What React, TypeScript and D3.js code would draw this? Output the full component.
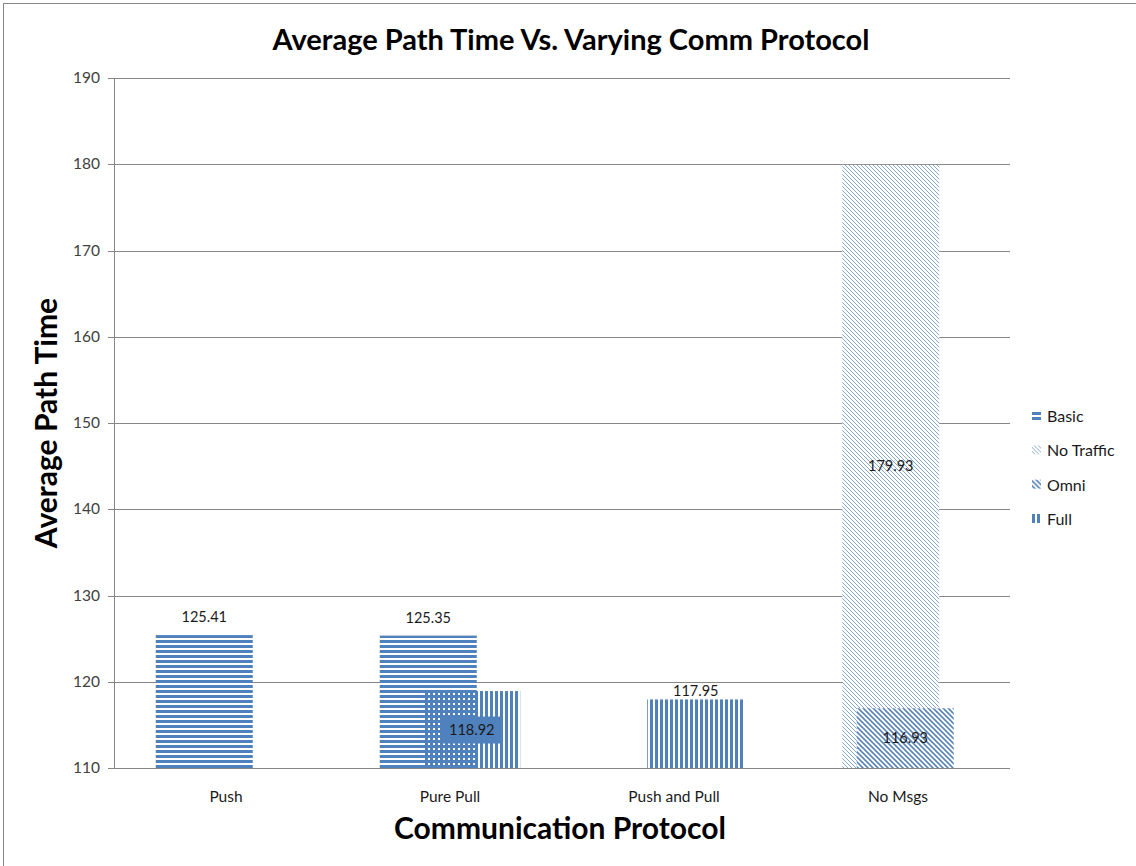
import React from 'react';
import * as d3 from 'd3';

const categories = ['Push', 'Pure Pull', 'Push and Pull', 'No Msgs'];
const seriesNames = ['Basic', 'No Traffic', 'Omni', 'Full'];
// values per series, null = no bar
const basic = [125.41, 125.35, null, null];
const noTraffic = [null, null, null, 179.93];
const omni = [null, null, null, 116.93];
const full = [null, 118.92, 117.95, null];
// where Excel put each data label
const basicLabels = ['out', 'out', '', ''];
const noTrafficLabels = ['', '', '', 'mid'];
const omniLabels = ['', '', '', 'mid'];
const fullLabels = ['', 'box', 'tight', ''];
const yTicks = [110, 120, 130, 140, 150, 160, 170, 180, 190];

const W = 1136;
const H = 866;
const margin = { top: 78, right: 126, bottom: 98, left: 114 };
const blue = '#4f81bd';
const font = 'Lato, "Open Sans", sans-serif';

const series = [
  { name: seriesNames[0], values: basic, labels: basicLabels, fill: 'url(#pBasic)' },
  { name: seriesNames[1], values: noTraffic, labels: noTrafficLabels, fill: 'url(#pNoTraffic)' },
  { name: seriesNames[2], values: omni, labels: omniLabels, fill: 'url(#pOmni)' },
  { name: seriesNames[3], values: full, labels: fullLabels, fill: 'url(#pFull)' },
];

function App() {
  const x = d3
    .scaleBand()
    .domain(categories)
    .range([margin.left, W - margin.right]);
  const y = d3
    .scaleLinear()
    .domain([110, 190])
    .range([H - margin.bottom, margin.top]);
  const barW = x.bandwidth() * 0.433;
  const offset = d3
    .scalePoint()
    .domain(seriesNames)
    .range([-x.bandwidth() * 0.097, x.bandwidth() * 0.097]);

  const bars = [];
  const labels = [];
  series.forEach((s) => {
    s.values.forEach((v, i) => {
      if (v == null) return;
      const cx = x(categories[i]) + x.bandwidth() / 2 + offset(s.name);
      const top = y(v);
      const base = y(110);
      bars.push(
        <rect
          key={s.name + i}
          x={cx - barW / 2}
          y={top}
          width={barW}
          height={base - top}
          fill={s.fill}
        />
      );
      const txt = v.toFixed(2);
      const pos = s.labels[i];
      let ly = (top + base) / 2 + 5;
      if (pos === 'out') ly = top - 13;
      if (pos === 'tight') ly = top - 3;
      if (pos === 'box') {
        labels.push(
          <rect key={'b' + s.name + i} x={cx - 29} y={(top + base) / 2 - 13} width={59} height={27} fill={blue} />
        );
      }
      labels.push(
        <text key={'t' + s.name + i} x={cx} y={ly} textAnchor="middle" fontSize={14.5} fill="#1a1a1a">
          {txt}
        </text>
      );
    });
  });

  const legendY = d3.scalePoint().domain(seriesNames).range([417, 520]);

  return (
    <svg
      width={W}
      height={H}
      style={{ position: 'absolute', left: 0, top: 0, background: '#fff' }}
      fontFamily={font}
    >
      <defs>
        <pattern id="pBasic" width={5} height={5} patternUnits="userSpaceOnUse">
          <rect width={5} height={3} fill={blue} />
        </pattern>
        <pattern id="pFull" width={5} height={5} patternUnits="userSpaceOnUse">
          <rect width={3} height={5} fill={blue} />
        </pattern>
        <pattern id="pNoTraffic" width={4} height={4} patternUnits="userSpaceOnUse">
          <rect width={4} height={4} fill="#fff" />
          <path d="M0,0 L4,4 M-1,3 L1,5 M3,-1 L5,1" stroke="#8aa7cc" strokeWidth={1} />
        </pattern>
        <pattern id="pOmni" width={5} height={5} patternUnits="userSpaceOnUse">
          <rect width={5} height={5} fill="#fff" />
          <path d="M0,0 L5,5 M-1,4 L1,6 M4,-1 L6,1" stroke="#5b84b8" strokeWidth={1.6} />
        </pattern>
      </defs>
      <rect x={3.5} y={3.5} width={W + 10} height={H + 10} fill="#fff" stroke="#868686" />

      <text x={571} y={50} textAnchor="middle" fontSize={29} fontWeight="bold" fill="#000">
        Average Path Time Vs. Varying Comm Protocol
      </text>

      {yTicks.map((t) => (
        <g key={t}>
          <line
            x1={margin.left - 6}
            x2={W - margin.right}
            y1={Math.round(y(t)) + 0.5}
            y2={Math.round(y(t)) + 0.5}
            stroke="#868686"
          />
          <text x={100} y={y(t) + 5} textAnchor="end" fontSize={15.5} fill="#404040">
            {t}
          </text>
        </g>
      ))}
      <line
        x1={margin.left + 0.5}
        x2={margin.left + 0.5}
        y1={y(190)}
        y2={y(110)}
        stroke="#868686"
      />

      {bars}
      {labels}

      {categories.map((c) => (
        <text
          key={c}
          x={x(c) + x.bandwidth() / 2}
          y={802}
          textAnchor="middle"
          fontSize={15.5}
          fill="#1a1a1a"
        >
          {c}
        </text>
      ))}

      <text x={560} y={839} textAnchor="middle" fontSize={30} fontWeight="bold" fill="#000">
        Communication Protocol
      </text>
      <text
        transform={`translate(57,423) rotate(-90)`}
        textAnchor="middle"
        fontSize={30}
        fontWeight="bold"
        fill="#000"
      >
        Average Path Time
      </text>

      {series.map((s) => (
        <g key={s.name} transform={`translate(1032,${legendY(s.name)})`}>
          <rect x={0} y={-6} width={9} height={9} fill={s.fill} />
          <text x={15} y={5} fontSize={16} fill="#1a1a1a">
            {s.name}
          </text>
        </g>
      ))}
    </svg>
  );
}

export default App;
